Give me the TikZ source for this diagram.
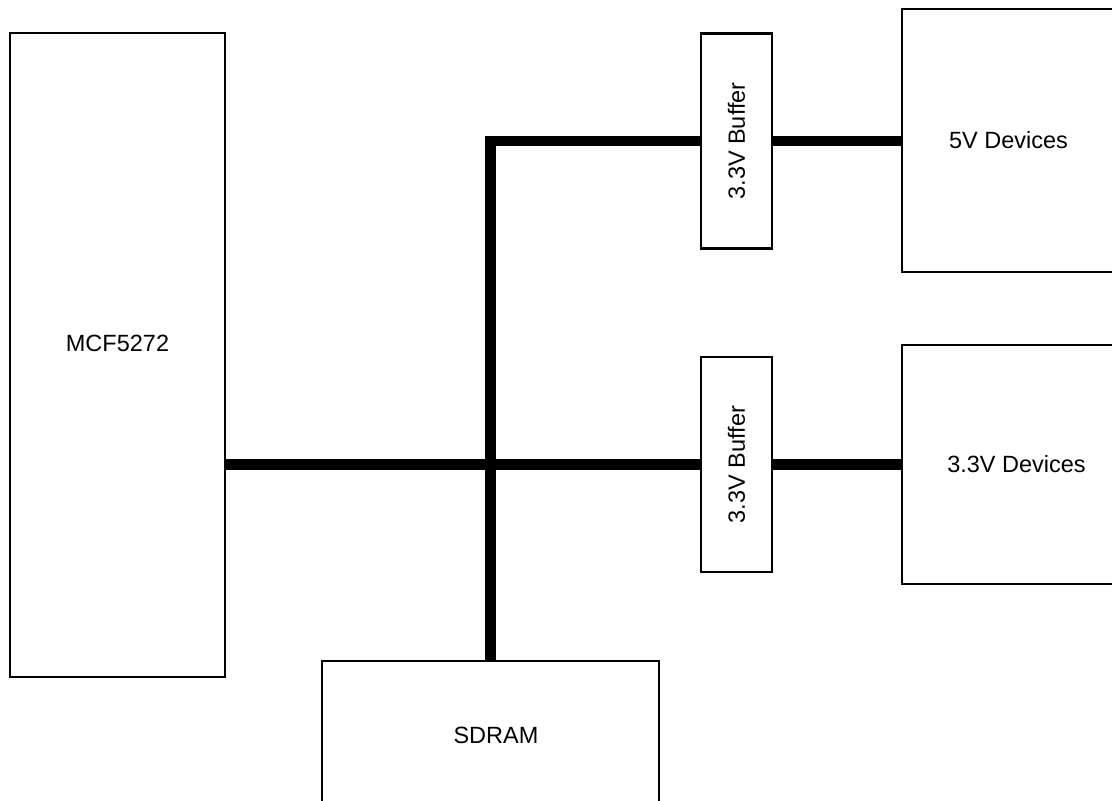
\documentclass[tikz,border=0pt]{standalone}
\usepackage{fontspec}
\setmainfont{Liberation Sans}
\begin{document}
\begin{tikzpicture}[x=1pt,y=-1pt,
  blk/.style={draw=black,line width=2.2pt,fill=none,inner sep=0pt,font=\fontsize{23.5}{28}\selectfont},
  bus/.style={line width=10.5pt,line join=miter,line cap=butt}]
\useasboundingbox (0,0) rectangle (1112,801);
% blocks
\node[blk,minimum width=215pt,minimum height=644pt,
  label={[font=\fontsize{23.5}{28}\selectfont,yshift=12pt]center:MCF5272}] (mcf) at (117.5,355) {};
\node[blk,minimum width=337pt,minimum height=148pt] (sdram) at (490.5,735) {\hspace*{11pt}SDRAM};
\node[blk,minimum width=71.5pt,minimum height=215pt] (buf1) at (736.5,141) {\rotatebox{90}{3.3V Buffer}};
\node[blk,minimum width=71.5pt,minimum height=215pt] (buf2) at (736.5,464.5) {\rotatebox{90}{3.3V Buffer}};
\node[blk,line width=2.8pt,minimum width=213pt,minimum height=263pt] (dev5) at (1008.5,140.5) {5V Devices};
\node[blk,line width=2.8pt,minimum width=229pt,minimum height=239pt] (dev33) at (1016.5,464.5) {3.3V Devices};
% buses
\draw[bus] (mcf.east |- buf2.west) -- (buf2.west);
\draw[bus] (sdram.north) |- (buf1.west);
\draw[bus] (buf1.east) -- (buf1.east -| dev5.west);
\draw[bus] (buf2.east) -- (buf2.east -| dev33.west);
\end{tikzpicture}
\end{document}
